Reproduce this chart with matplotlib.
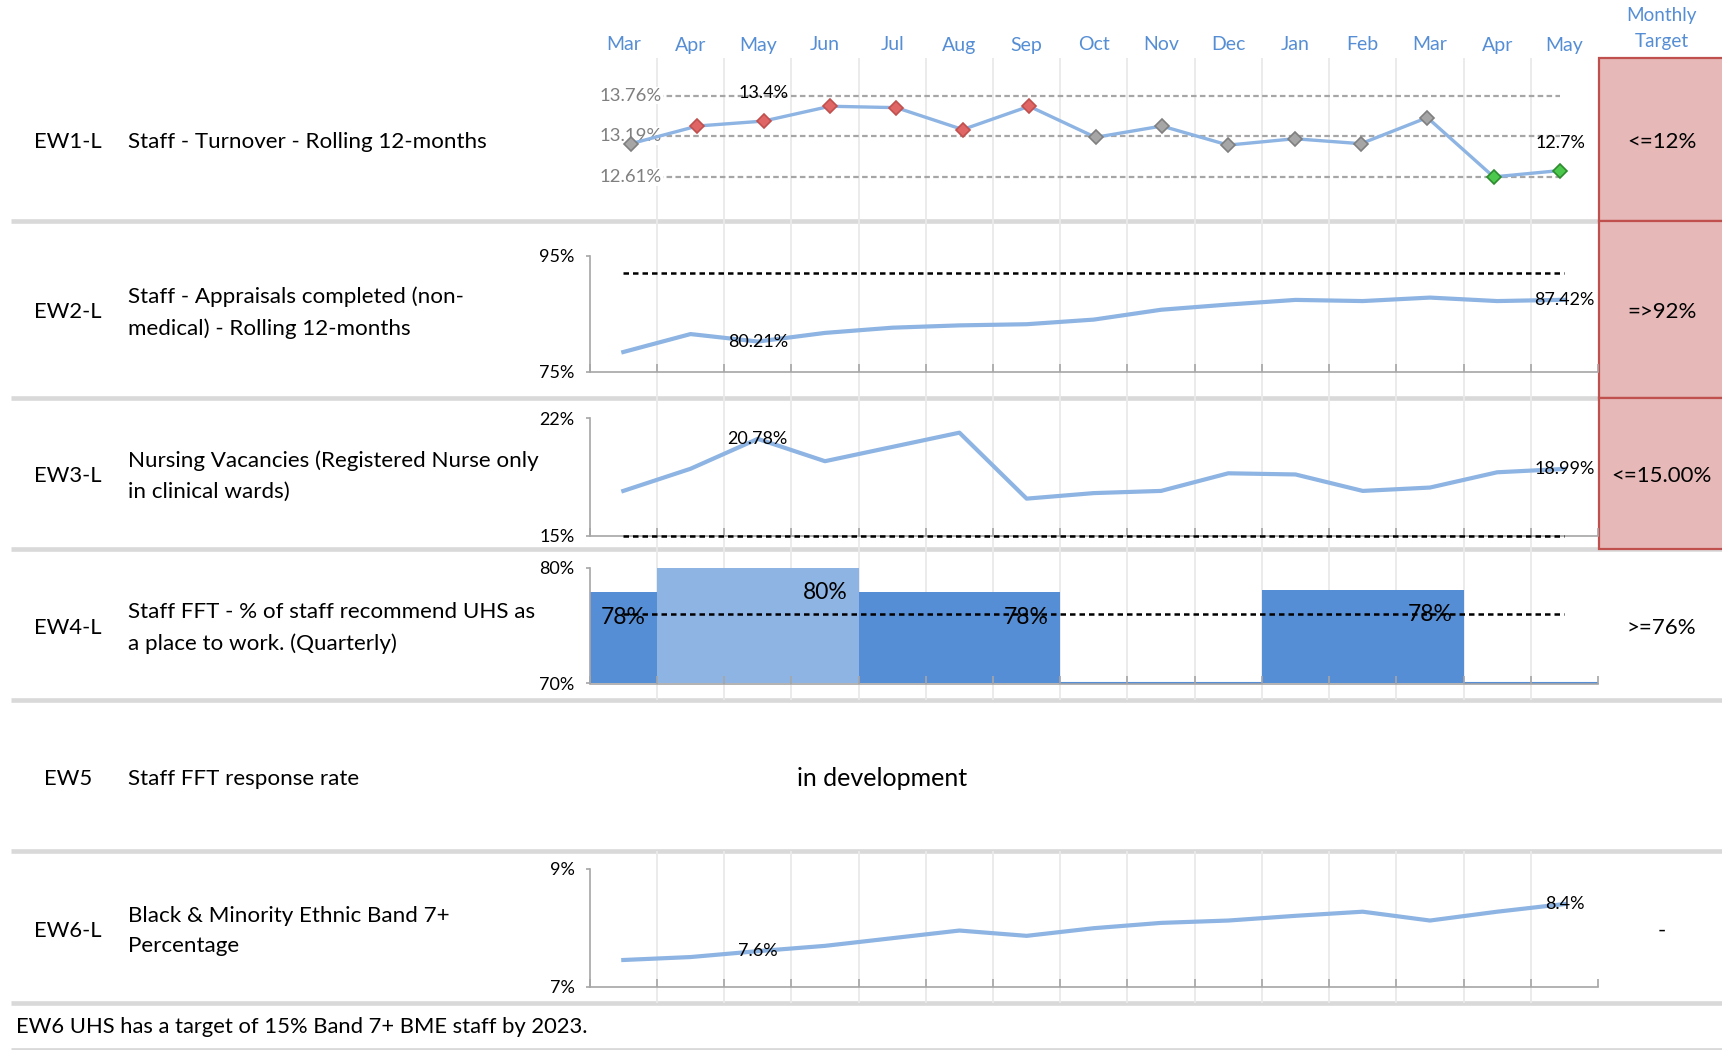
import numpy as np
import matplotlib
matplotlib.use("Agg")
import matplotlib.pyplot as plt
from matplotlib.patches import Rectangle

plt.rcParams['font.family'] = ['Lato', 'DejaVu Sans']

# ---- data ----
months = ["Mar", "Apr", "May", "Jun", "Jul", "Aug", "Sep", "Oct",
          "Nov", "Dec", "Jan", "Feb", "Mar", "Apr", "May"]

turnover = [13.08, 13.33, 13.40, 13.61, 13.59, 13.28, 13.61, 13.17,
            13.33, 13.06, 13.15, 13.08, 13.45, 12.61, 12.70]
turnover_status = ["normal", "high", "high", "high", "high", "high", "high", "normal",
                   "normal", "normal", "normal", "normal", "normal", "low", "low"]
turnover_limits = [13.76, 13.19, 12.61]

appraisals = [78.4, 81.5, 80.21, 81.7, 82.6, 83.0, 83.2, 84.0,
              85.7, 86.6, 87.4, 87.2, 87.8, 87.2, 87.42]
appraisals_target = 92

vacancies = [17.68, 19.0, 20.78, 19.45, 20.3, 21.15, 17.22, 17.55,
             17.68, 18.73, 18.66, 17.68, 17.88, 18.79, 18.99]
vacancies_target = 15

fft = [77.9, 80.0, 80.0, 80.0, 77.9, 77.9, 77.9, np.nan,
       np.nan, np.nan, 78.1, 78.1, 78.1, np.nan, np.nan]
fft_quarter_end = [0, 3, 6, 12]
fft_target = 76

bme = [7.45, 7.50, 7.60, 7.69, 7.82, 7.95, 7.86, 7.99,
       8.08, 8.12, 8.20, 8.27, 8.12, 8.27, 8.40]

codes = ["EW1-L", "EW2-L", "EW3-L", "EW4-L", "EW5", "EW6-L"]
descriptions = ["Staff - Turnover - Rolling 12-months",
                "Staff - Appraisals completed (non-\nmedical) - Rolling 12-months",
                "Nursing Vacancies (Registered Nurse only\nin clinical wards)",
                "Staff FFT - % of staff recommend UHS as\na place to work. (Quarterly)",
                "Staff FFT response rate",
                "Black & Minority Ethnic Band 7+\nPercentage"]
targets = ["<=12%", "=>92%", "<=15.00%", ">=76%", "", "-"]
target_missed = [True, True, True, False, False, False]

# ---- layout (pixels) ----
W, H = 1722, 1050
PLOT_L, PLOT_R = 589.7, 1598
LINE_BLUE = "#8DB4E2"
DARK_BLUE = "#558ED5"
HEADER_BLUE = "#558ED5"
GRID = "#E9E9E9"
SEP = "#D9D9D9"
AXIS = "#A6A6A6"

row_tops = [58, 221, 397.5, 549, 699.5, 851]
row_bots = [221, 397.5, 549, 699.5, 851, 1003]
row_mid = [142.5, 312.5, 476, 628, 779, 931]

fig = plt.figure(figsize=(W / 100, H / 100), dpi=100)


def add_ax(left, top, right, bottom, z=2):
    ax = fig.add_axes([left / W, 1 - bottom / H, (right - left) / W, (bottom - top) / H])
    ax.set_zorder(z)
    ax.patch.set_alpha(0)
    return ax


# background in pixel coordinates
bg = add_ax(0, 0, W, H, z=0)
bg.set_xlim(0, W)
bg.set_ylim(H, 0)
bg.axis("off")

# shared month grid: x in month units, y in pixels
grid = add_ax(PLOT_L, 0, PLOT_R, H, z=1)
grid.set_xlim(-0.5, 14.5)
grid.set_ylim(H, 0)
grid.axis("off")
for i, m in enumerate(months):
    grid.text(i, 45, m, ha="center", va="center", color=HEADER_BLUE, fontsize=14)
bounds = np.arange(0.5, 14.5, 1)
for r in [0, 1, 2, 3, 5]:
    grid.vlines(bounds, row_tops[r], row_bots[r], color=GRID, lw=1.3, zorder=0)

# separators and target boxes
bg.hlines([221, 397.5, 549, 699.5, 851, 1003], 11, W, color=SEP, lw=3.3, zorder=1)
bg.hlines([1048.5], 11, W, color=SEP, lw=2, zorder=1)
for r in range(6):
    if target_missed[r]:
        bg.add_patch(Rectangle((1599, row_tops[r]), 130, row_bots[r] - row_tops[r],
                               facecolor="#E6B8B7", edgecolor="#C0504D", lw=1.6, zorder=2))

bg.text(1661.6, 15.5, "Monthly", ha="center", va="center", color=HEADER_BLUE, fontsize=13.6)
bg.text(1661.6, 41.5, "Target", ha="center", va="center", color=HEADER_BLUE, fontsize=13.6)

for r in range(6):
    bg.text(68, row_mid[r], codes[r], ha="center", va="center", fontsize=15.8)
    bg.text(128.5, row_mid[r], descriptions[r], ha="left", va="center", fontsize=16.1,
            linespacing=1.68)
    bg.text(1661.6, row_mid[r], targets[r], ha="center", va="center", fontsize=16, zorder=3)

bg.text(882, 779, "in development", ha="center", va="center", fontsize=18)
bg.text(16.5, 1027, "EW6 UHS has a target of 15% Band 7+ BME staff by 2023.",
        ha="left", va="center", fontsize=15.8)

# ---- EW1: turnover run chart ----
ax1 = add_ax(597.8, 58.2, 1593.2, 220.7)
ax1.set_xlim(-0.5, 14.5)
ax1.set_ylim(11.99, 14.29)
ax1.axis("off")
x = np.arange(len(months))
for lim in turnover_limits:
    ax1.plot([0, 14], [lim, lim], color=AXIS, lw=1.6, dashes=(2.5, 1.5), zorder=1)
    ax1.text(0, lim, f"{lim:.2f}%", ha="center", va="center", color="#7F7F7F",
             fontsize=13.3, zorder=2,
             bbox=dict(facecolor="white", edgecolor="none", pad=0.5))
ax1.plot(x, turnover, color=LINE_BLUE, lw=2.4, zorder=3)
fills = {"normal": ("#A6A6A6", "#7F7F7F"), "high": ("#E06666", "#C0504D"),
         "low": ("#4CC94C", "#2E8B2E")}
for xi, v, s in zip(x, turnover, turnover_status):
    ax1.plot(xi, v, marker="D", ms=7.5, mfc=fills[s][0], mec=fills[s][1], mew=1.2, zorder=4)
for i in [2, 14]:
    ax1.annotate(f"{turnover[i]:.1f}%", (i, turnover[i]), xytext=(0, 20),
                 textcoords="offset points", ha="center", va="center", fontsize=13)


def style_axes(ax, lo, hi):
    ax.set_xlim(-0.5, 14.5)
    ax.set_ylim(lo, hi)
    for s in ["top", "right"]:
        ax.spines[s].set_visible(False)
    for s in ["left", "bottom"]:
        ax.spines[s].set_color(AXIS)
        ax.spines[s].set_linewidth(1.2)
    ax.set_xticks(np.arange(-0.5, 15, 1))
    ax.set_xticklabels([])
    ax.tick_params(axis="x", direction="in", length=6, color=AXIS, width=1.2)
    ax.set_yticks([lo, hi])
    ax.set_yticklabels([f"{lo:g}%", f"{hi:g}%"])
    ax.tick_params(axis="y", direction="out", length=3, color=AXIS, width=1.2,
                   labelsize=13, pad=8)


def line_panel(ax, values, lo, hi, target, labelled, fmt):
    style_axes(ax, lo, hi)
    ax.plot(x, values, color=LINE_BLUE, lw=3, zorder=3, clip_on=False)
    if target is not None:
        ax.plot([0, 14], [target, target], color="black", lw=1.8, dashes=(2.2, 1.6),
                zorder=4, clip_on=False)
    for i in labelled:
        ax.text(i, values[i], fmt.format(values[i]), ha="center", va="center",
                fontsize=13, zorder=5)


ax2 = add_ax(PLOT_L, 255.9, PLOT_R, 371.7)
line_panel(ax2, appraisals, 75, 95, appraisals_target, [2, 14], "{:.2f}%")

ax3 = add_ax(PLOT_L, 418.4, PLOT_R, 535.9)
line_panel(ax3, vacancies, 15, 22, vacancies_target, [2, 14], "{:.2f}%")

ax6 = add_ax(PLOT_L, 868.7, PLOT_R, 986.5)
line_panel(ax6, bme, 7, 9, None, [2, 14], "{:.1f}%")

# ---- EW4: quarterly FFT bars ----
ax4 = add_ax(PLOT_L, 567.8, PLOT_R, 683.5)
style_axes(ax4, 70, 80)
bar_colors = [DARK_BLUE, "#8EB4E3", "#8EB4E3", "#8EB4E3"] + [DARK_BLUE] * 11
heights = [0 if np.isnan(v) else v - 70 for v in fft]
edges = [DARK_BLUE if np.isnan(v) else "none" for v in fft]
ax4.bar(x, heights, bottom=70, width=1.0, color=bar_colors, edgecolor=edges,
        linewidth=1.5, zorder=1)
ax4.plot([0, 14], [fft_target, fft_target], color="black", lw=1.8, dashes=(2.2, 1.6), zorder=4)
for i in fft_quarter_end:
    ax4.annotate(f"{fft[i]:.0f}%", (i, fft[i]), xytext=(0, -18), textcoords="offset points",
                 ha="center", va="center", fontsize=16.5, zorder=5)

fig.savefig("out.png", dpi=100)
